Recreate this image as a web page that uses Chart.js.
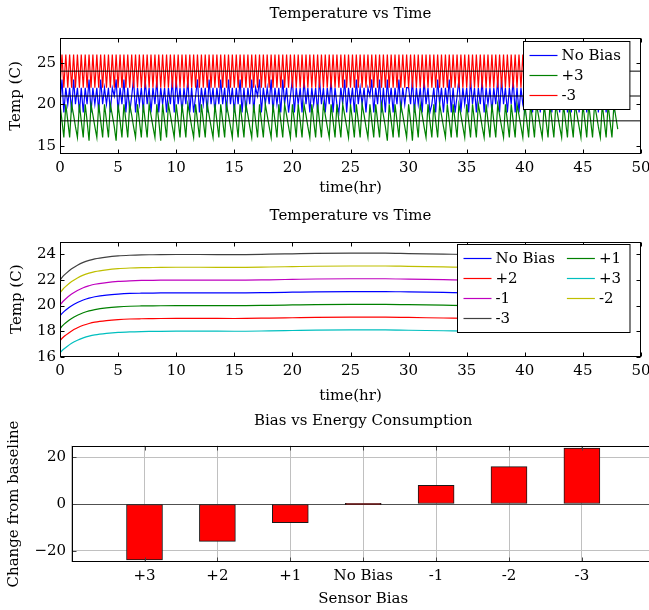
<!DOCTYPE html>
<html>
<head>
<meta charset="utf-8">
<script src="https://cdn.jsdelivr.net/npm/chart.js@4.4.0/dist/chart.umd.min.js"></script>
<style>
  html, body { margin: 0; padding: 0; background: #fff; overflow: hidden; }
  canvas { position: absolute; left: 0; }
</style>
</head>
<body>
<canvas id="tempOsc" width="649" height="200" style="top:0px"></canvas>
<canvas id="tempSmooth" width="649" height="210" style="top:200px"></canvas>
<canvas id="energy" width="680" height="210" style="top:400px"></canvas>
<script>
// ---- top plot: thermostat cycling, sampled every 10 min ----
const timeHr = [
  0,0.17,0.33,0.5,0.67,0.83,1,1.17,1.33,1.5,1.67,1.83,
  2,2.17,2.33,2.5,2.67,2.83,3,3.17,3.33,3.5,3.67,3.83,
  4,4.17,4.33,4.5,4.67,4.83,5,5.17,5.33,5.5,5.67,5.83,
  6,6.17,6.33,6.5,6.67,6.83,7,7.17,7.33,7.5,7.67,7.83,
  8,8.17,8.33,8.5,8.67,8.83,9,9.17,9.33,9.5,9.67,9.83,
  10,10.17,10.33,10.5,10.67,10.83,11,11.17,11.33,11.5,11.67,11.83,
  12,12.17,12.33,12.5,12.67,12.83,13,13.17,13.33,13.5,13.67,13.83,
  14,14.17,14.33,14.5,14.67,14.83,15,15.17,15.33,15.5,15.67,15.83,
  16,16.17,16.33,16.5,16.67,16.83,17,17.17,17.33,17.5,17.67,17.83,
  18,18.17,18.33,18.5,18.67,18.83,19,19.17,19.33,19.5,19.67,19.83,
  20,20.17,20.33,20.5,20.67,20.83,21,21.17,21.33,21.5,21.67,21.83,
  22,22.17,22.33,22.5,22.67,22.83,23,23.17,23.33,23.5,23.67,23.83,
  24,24.17,24.33,24.5,24.67,24.83,25,25.17,25.33,25.5,25.67,25.83,
  26,26.17,26.33,26.5,26.67,26.83,27,27.17,27.33,27.5,27.67,27.83,
  28,28.17,28.33,28.5,28.67,28.83,29,29.17,29.33,29.5,29.67,29.83,
  30,30.17,30.33,30.5,30.67,30.83,31,31.17,31.33,31.5,31.67,31.83,
  32,32.17,32.33,32.5,32.67,32.83,33,33.17,33.33,33.5,33.67,33.83,
  34,34.17,34.33,34.5,34.67,34.83,35,35.17,35.33,35.5,35.67,35.83,
  36,36.17,36.33,36.5,36.67,36.83,37,37.17,37.33,37.5,37.67,37.83,
  38,38.17,38.33,38.5,38.67,38.83,39,39.17,39.33,39.5,39.67,39.83,
  40,40.17,40.33,40.5,40.67,40.83,41,41.17,41.33,41.5,41.67,41.83,
  42,42.17,42.33,42.5,42.67,42.83,43,43.17,43.33,43.5,43.67,43.83,
  44,44.17,44.33,44.5,44.67,44.83,45,45.17,45.33,45.5,45.67,45.83,
  46,46.17,46.33,46.5,46.67,46.83,47,47.17,47.33,47.5,47.67,47.83,
  48
];

const noBiasOsc = [
  20,23,19,22,20,22,19,23,20,22,19,22,
  19,22,20,23,19,22,20,22,19,23,20,22,
  20,22,19,22,21,23,19,22,20,23,19,22,
  19,21,23,19,22,20,22,19,23,20,22,19,
  22,20,23,19,22,20,22,19,22,20,23,19,
  23,20,22,19,22,20,23,19,22,19,21,23,
  19,22,20,22,19,23,20,22,19,22,20,23,
  20,22,19,23,20,22,19,22,20,23,19,22,
  19,22,20,23,19,22,21,23,19,22,20,22,
  20,23,19,22,20,22,19,23,20,22,19,21,
  23,19,22,20,22,19,23,20,22,19,22,20,
  22,19,23,20,22,19,22,20,23,19,22,20,
  19,22,20,23,19,22,20,22,19,23,20,22,
  20,22,19,22,21,23,19,22,20,23,19,22,
  19,23,20,22,19,22,20,23,19,22,20,22,
  22,20,23,19,22,20,22,19,23,20,22,19,
  20,22,19,23,20,22,19,22,20,23,19,22,
  19,21,23,19,22,20,22,19,23,20,22,19,
  22,20,23,19,22,20,22,19,22,20,23,19,
  23,20,22,19,22,20,23,19,22,19,22,20,
  19,22,20,22,19,23,20,22,19,22,20,23,
  20,22,19,23,20,22,19,22,20,23,19,22,
  19,22,20,23,19,22,20,22,19,23,20,22,
  20,23,19,22,20,22,19,23,20,22,19,22,
  20
];

const plus3Osc = [
  20,18,16,20,18,16,20,18.7,17.3,16,
  20,18,16,20,18,15.6,20,18.7,17.3,16,
  20,18,16,20,18,16,20,18.7,17.3,15.6,
  20,18,16,20,18,16,20,18.7,17.3,16,
  20,18,16,20,18,16,20,18.7,17.3,16,
  20,18,15.6,20,18,16,20,18.7,17.3,16,
  20,18,16,20,18,16,20,18.7,17.3,16,
  20,18,16,20,18,16,20,18.7,17.3,16,
  20,18,16,20,18,16,20,18.7,17.3,16,
  20,18,16,20,18,16,20,18.7,17.3,16,
  20,18,16,20,18,16,20,18.7,17.3,16,
  20,18,16,20,18,16,20,18.7,17.3,16,
  20,18,16,20,18,16,20,18.7,17.3,16,
  20,18,16,20,18,16,20,18.7,17.3,16,
  20,18,16,20,18,16,20,18.7,17.3,16,
  20,18,16,20,18,16,20,18.7,17.3,16,
  20,18,16,20,18,16,20,18.7,17.3,15.6,
  20,18,16,20,18,16,20,18.7,17.3,16,
  20,18,15.6,20,18,16,20,18.7,17.3,16,
  20,18,16,20,18,16,20,18.7,17.3,16,
  20,18,16,20,18,16,20,18.7,17.3,16,
  20,18,16,20,18,16,20,18.7,17.3,16,
  20,18,16,20,18,16,20,18.7,17.3,16,
  20,18,16,20,18,16,20,18.7,17.3,16,
  20,18,16,20,18,16,20,18.7,17.3,16,
  20,18,16,20,18,16,20,18.7,17.3,16,
  20,18,16,20,18,16,20,18.7,17.3,16,
  20,18,16,20,18,16,20,18.7,17.3,16,
  20,18,16,20,18,16,20,18.5,17
];

const minus3Osc = [
  22,26,22,26,22,26,22,26,22,26,22,26,
  22,26,22,26,22,26,22,26,22,26,22,26,
  22,26,22,26,22,26,22,26,22,26,22,26,
  22,26,22,26,22,26,22,26,22,26,22,26,
  22,26,22,26,22,26,22,26,22,26,22,26,
  22,26,22,26,22,26,22,26,22,26,22,26,
  22,26,22,26,22,26,22,26,22,26,22,26,
  22,26,22,26,22,26,22,26,22,26,22,26,
  22,26,22,26,22,26,22,26,22,26,22,26,
  22,26,22,26,22,26,22,26,22,26,22,26,
  22,26,22,26,22,26,22,26,22,26,22,26,
  22,26,22,26,22,26,22,26,22,26,22,26,
  22,26,22,26,22,26,22,26,22,26,22,26,
  22,26,22,26,22,26,22,26,22,26,22,26,
  22,26,22,26,22,26,22,26,22,26,22,26,
  22,26,22,26,22,26,22,26,22,26,22,26,
  22,26,22,26,22,26,22,26,22,26,22,26,
  22,26,22,26,22,26,22,26,22,26,22,26,
  22,26,22,26,22,26,22,26,22,26,22,26,
  22,26,22,26,22,26,22,26,22,26,22,26,
  22,26,22,26,22,26,22,26,22,26,22,26,
  22,26,22,26,22,26,22,26,22,26,22,26,
  22,26,22,26,22,26,22,26,22,26,22,26,
  22,26,22,26,22,26,22,26,22,26,22,26,
  22
];

const setpoints = [24, 21, 18];
const setpointSpan = [0, 50];

// ---- middle plot: average temperature per bias ----
const avgTimeHr = [0,0.25,0.5,1,1.5,2,2.5,3,4,5,6,7,8,10,12,15,18,20,22,25,28,30,33,35,38,40,43,45,48];
const avgNoBias = [19.2,19.45,19.65,19.99,20.24,20.44,20.59,20.69,20.82,20.9,20.95,20.97,20.98,21,21,20.99,21.02,21.05,21.08,21.1,21.1,21.07,21.03,21,20.98,20.97,20.98,21,21];
const avgPlus1  = [18.2,18.45,18.65,18.99,19.24,19.44,19.59,19.69,19.82,19.9,19.95,19.97,19.98,20,20,19.99,20.02,20.05,20.08,20.1,20.1,20.07,20.03,20,19.98,19.97,19.98,20,20];
const avgPlus2  = [17.25,17.5,17.69,18.02,18.26,18.46,18.6,18.7,18.82,18.9,18.95,18.97,18.98,19,19,18.99,19.02,19.05,19.08,19.1,19.1,19.07,19.03,19,18.98,18.97,18.98,19,19];
const avgPlus3  = [16.3,16.54,16.72,17.05,17.29,17.47,17.61,17.71,17.83,17.91,17.95,17.97,17.98,18,18,17.99,18.02,18.05,18.08,18.1,18.1,18.07,18.03,18,17.98,17.97,17.98,18,18];
const avgMinus1 = [20.05,20.32,20.54,20.91,21.18,21.4,21.55,21.67,21.8,21.89,21.94,21.97,21.98,22,22,21.99,22.02,22.05,22.08,22.1,22.1,22.07,22.03,22,21.98,21.97,21.98,22,22];
const avgMinus2 = [21,21.28,21.5,21.88,22.16,22.38,22.54,22.66,22.8,22.89,22.94,22.97,22.98,23,23,22.99,23.02,23.05,23.08,23.1,23.1,23.07,23.03,23,22.98,22.97,22.98,23,23];
const avgMinus3 = [22,22.28,22.5,22.88,23.16,23.38,23.54,23.66,23.8,23.89,23.94,23.97,23.98,24,24,23.99,24.02,24.05,24.08,24.1,24.1,24.07,24.03,24,23.98,23.97,23.98,24,24];

// ---- bottom plot: energy ----
const biasLevels = ["+3", "+2", "+1", "No Bias", "-1", "-2", "-3"];
const energyChange = [-24, -16, -8, 0, 8, 16, 24];

const FONT = "DejaVu Serif";
Chart.defaults.font.family = FONT;
Chart.defaults.font.size = 15;
Chart.defaults.color = "#000";

// pgfplots look: box frame, inward ticks, legend inside the axes
function drawLegend(chart, cols) {
    const ctx = chart.ctx;
    const a = chart.chartArea;
    const items = chart.data.datasets.filter(d => d.label);
    ctx.font = "15px '" + FONT + "'";
    const rows = Math.ceil(items.length / cols);
    const colW = [];
    for (let c = 0; c < cols; c++) {
        let w = 0;
        for (let r = 0; r < rows; r++) {
            const it = items[r * cols + c];
            if (it) w = Math.max(w, ctx.measureText(it.label).width);
        }
        colW.push(28 + 4 + w);
    }
    const width = 6 + colW.reduce((s, w) => s + w, 0) + 12 * (cols - 1) + 9;
    const height = 8 + rows * 20;
    const x0 = Math.round(a.right - 11.5 - width) + 0.5;
    const y0 = Math.round(a.top + 2.7) + 0.5;
    ctx.fillStyle = "#fff";
    ctx.fillRect(x0, y0, width, height);
    ctx.lineWidth = 1;
    ctx.strokeStyle = "#000";
    ctx.strokeRect(x0, y0, width, height);
    items.forEach((it, k) => {
        const r = Math.floor(k / cols), c = k % cols;
        let x = x0 + 6;
        for (let j = 0; j < c; j++) x += colW[j] + 12;
        const y = y0 + 4 + r * 20 + 10;
        ctx.strokeStyle = it.borderColor;
        ctx.lineWidth = 1.2;
        ctx.beginPath();
        ctx.moveTo(x, y);
        ctx.lineTo(x + 28, y);
        ctx.stroke();
        ctx.fillStyle = "#000";
        ctx.textBaseline = "middle";
        ctx.textAlign = "left";
        ctx.fillText(it.label, x + 32, y + 1);
    });
}

const pgfAxes = {
    id: "pgfAxes",
    afterDatasetsDraw(chart, args, opts) {
        const ctx = chart.ctx;
        const a = chart.chartArea;
        const xs = chart.scales.x, ys = chart.scales.y;
        const L = Math.round(a.left) + 0.5, R = Math.round(a.right) - 0.5;
        const T = Math.round(a.top) + 0.5, B = Math.round(a.bottom) - 0.5;
        ctx.save();
        ctx.lineWidth = 1;
        ctx.strokeStyle = opts.tickColor || "#000";
        ctx.beginPath();
        xs.ticks.forEach((t, i) => {
            if (xs.type === "category" && !xs.getLabelForValue(t.value)) return;
            const px = Math.round(xs.getPixelForTick(i)) + 0.5;
            ctx.moveTo(px, B); ctx.lineTo(px, B - 4);
            ctx.moveTo(px, T); ctx.lineTo(px, T + 4);
        });
        ys.ticks.forEach((t, i) => {
            const py = Math.round(ys.getPixelForTick(i)) + 0.5;
            ctx.moveTo(L, py); ctx.lineTo(L + 4, py);
            ctx.moveTo(R, py); ctx.lineTo(R - 4, py);
        });
        ctx.stroke();
        ctx.strokeStyle = "#000";
        ctx.strokeRect(L, T, R - L, B - T);
        if (opts.legendCols) drawLegend(chart, opts.legendCols);
        ctx.restore();
    }
};

function fixTicks(values) {
    return scale => { scale.ticks = values.map(v => ({ value: v })); };
}

// 1) Temperature vs Time (cycling)
new Chart(document.getElementById("tempOsc"), {
    type: "line",
    data: {
        labels: timeHr,
        datasets: [
            { label: "No Bias", data: noBiasOsc, borderColor: "#0000ff", order: 3 },
            { label: "+3", data: plus3Osc, borderColor: "#008000", order: 2 },
            { label: "-3", data: minus3Osc, borderColor: "#ff0000", order: 1 },
            ...setpoints.map(v => ({
                label: "",
                data: setpointSpan.map(t => ({ x: t, y: v })),
                borderColor: "#000000",
                borderWidth: 1,
                order: 0
            }))
        ]
    },
    options: {
        responsive: false,
        animation: false,
        devicePixelRatio: 1,
        layout: { padding: { left: 0, right: 8, top: 0, bottom: 0 } },
        elements: { point: { radius: 0 }, line: { borderWidth: 1.2, tension: 0 } },
        plugins: {
            legend: { display: false },
            tooltip: { enabled: false },
            title: { display: true, fullSize: false, text: "Temperature vs Time", font: { size: 15, weight: "normal" }, padding: { top: 5, bottom: 15 } },
            pgfAxes: { legendCols: 1 }
        },
        scales: {
            x: {
                type: "linear", min: 0, max: 50,
                ticks: { stepSize: 5, padding: 5, maxRotation: 0 },
                grid: { display: false, drawTicks: false }, border: { display: false },
                title: { display: true, text: "time(hr)", padding: { top: 0, bottom: 3 } },
                afterFit: s => { s.height = 46; s.paddingLeft = 0; s.paddingRight = 0; }
            },
            y: {
                min: 14, max: 28,
                afterBuildTicks: fixTicks([15, 20, 25]),
                ticks: { padding: 4 },
                grid: { display: false, drawTicks: false }, border: { display: false },
                title: { display: true, text: "Temp (C)", padding: { top: 7.5, bottom: 0 } },
                afterFit: s => { s.width = 60; s.paddingTop = 0; s.paddingBottom = 0; }
            }
        }
    },
    plugins: [pgfAxes]
});

// 2) Temperature vs Time (averaged)
new Chart(document.getElementById("tempSmooth"), {
    type: "line",
    data: {
        labels: avgTimeHr,
        datasets: [
            { label: "No Bias", data: avgNoBias, borderColor: "#0000ff" },
            { label: "+1", data: avgPlus1, borderColor: "#008000" },
            { label: "+2", data: avgPlus2, borderColor: "#ff0000" },
            { label: "+3", data: avgPlus3, borderColor: "#00bfbf" },
            { label: "-1", data: avgMinus1, borderColor: "#bf00bf" },
            { label: "-2", data: avgMinus2, borderColor: "#bfbf00" },
            { label: "-3", data: avgMinus3, borderColor: "#404040" }
        ]
    },
    options: {
        responsive: false,
        animation: false,
        devicePixelRatio: 1,
        layout: { padding: { left: 0, right: 8, top: 0, bottom: 0 } },
        elements: { point: { radius: 0 }, line: { borderWidth: 1.2, cubicInterpolationMode: "monotone" } },
        plugins: {
            legend: { display: false },
            tooltip: { enabled: false },
            title: { display: true, fullSize: false, text: "Temperature vs Time", font: { size: 15, weight: "normal" }, padding: { top: 7.5, bottom: 16.2 } },
            pgfAxes: { legendCols: 2 }
        },
        scales: {
            x: {
                type: "linear", min: 0, max: 50,
                ticks: { stepSize: 5, padding: 5.5, maxRotation: 0 },
                grid: { display: false, drawTicks: false }, border: { display: false },
                title: { display: true, text: "time(hr)", padding: { top: 0, bottom: 5 } },
                afterFit: s => { s.height = 53.3; s.paddingLeft = 0; s.paddingRight = 0; }
            },
            y: {
                min: 16, max: 25,
                afterBuildTicks: fixTicks([16, 18, 20, 22, 24]),
                ticks: { padding: 4 },
                grid: { display: false, drawTicks: false }, border: { display: false },
                title: { display: true, text: "Temp (C)", padding: { top: 8, bottom: 0 } },
                afterFit: s => { s.width = 60; s.paddingTop = 0; s.paddingBottom = 0; }
            }
        }
    },
    plugins: [pgfAxes]
});

// 3) Bias vs Energy Consumption
new Chart(document.getElementById("energy"), {
    type: "bar",
    data: {
        labels: ["", ...biasLevels, ""],
        datasets: [{
            label: "",
            data: [null, ...energyChange, null],
            backgroundColor: "#ff0000",
            borderColor: "#1a1a1a",
            borderWidth: 1,
            borderSkipped: false,
            barThickness: 36,
            minBarLength: 1.5
        }]
    },
    options: {
        responsive: false,
        animation: false,
        devicePixelRatio: 1,
        layout: { padding: { left: 0, right: 25.2, top: 0, bottom: 0 } },
        plugins: {
            legend: { display: false },
            tooltip: { enabled: false },
            title: { display: true, fullSize: false, text: "Bias vs Energy Consumption", font: { size: 15, weight: "normal" }, padding: { top: 11.7, bottom: 16 } },
            pgfAxes: { tickColor: "#444" }
        },
        scales: {
            x: {
                type: "category", offset: false,
                ticks: { padding: 4.5, maxRotation: 0, autoSkip: false },
                grid: { display: true, offset: false, color: "#c0c0c0", drawTicks: false },
                border: { display: false },
                title: { display: true, text: "Sensor Bias", padding: { top: 0, bottom: 2 } },
                afterFit: s => { s.height = 47.7; s.paddingLeft = 0; s.paddingRight = 0; }
            },
            y: {
                min: -25, max: 25,
                afterBuildTicks: fixTicks([-20, 0, 20]),
                ticks: { padding: 5.5, callback: v => (v < 0 ? "\u2212" + Math.abs(v) : String(v)) },
                grid: {
                    display: true, drawTicks: false,
                    color: c => (c.tick && c.tick.value === 0 ? "#505050" : "#c0c0c0")
                },
                border: { display: false },
                title: { display: true, text: "Change from baseline", padding: { top: 5.5, bottom: 0 } },
                afterFit: s => { s.width = 71.6; s.paddingTop = 0; s.paddingBottom = 0; }
            }
        }
    },
    plugins: [pgfAxes]
});
</script>
</body>
</html>
